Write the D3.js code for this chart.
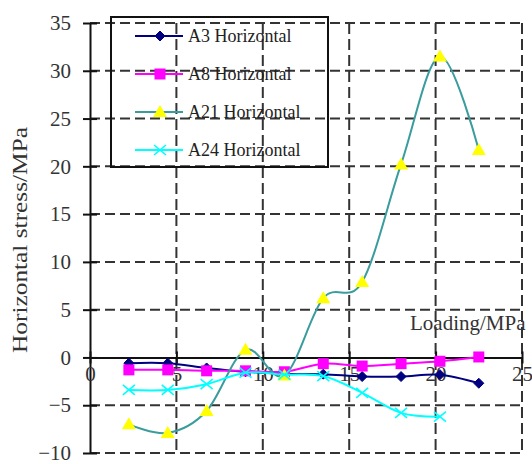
<!DOCTYPE html>
<html>
<head>
<meta charset="utf-8">
<script src="https://cdn.jsdelivr.net/npm/d3@7"></script>
<style>
  html, body { margin: 0; padding: 0; background: #fff; }
  svg { display: block; font-family: "Liberation Serif", "Times New Roman", serif; }
</style>
</head>
<body>
<svg id="chart" width="532" height="464"></svg>
<script>
// Loading steps (MPa) and measured horizontal stress (MPa) at four gauges
const loading = [2.25, 4.5, 6.75, 9, 11.25, 13.5, 15.75, 18, 20.25, 22.5];
const a3  = [-0.6, -0.6, -1.1, -1.5, -1.7, -1.75, -2.0, -2.0, -1.8, -2.7];
const a8  = [-1.3, -1.3, -1.4, -1.4, -1.5, -0.65, -0.9, -0.65, -0.4, 0.05];
const a21 = [-7.0, -7.9, -5.6, 0.8, -1.9, 6.2, 7.9, 20.2, 31.5, 21.7];
const a24 = [-3.4, -3.4, -2.8, -1.6, -1.8, -1.95, -3.7, -5.8, -6.2];
const seriesNames = ["A3 Horizontal", "A8 Horizontal", "A21 Horizontal", "A24 Horizontal"];
const xTicks = [0, 5, 10, 15, 20, 25];
const yTicks = [-10, -5, 0, 5, 10, 15, 20, 25, 30, 35];

const series = [
  { name: seriesNames[0], values: a3,  line: "#000080", fill: "#000080", marker: "diamond" },
  { name: seriesNames[1], values: a8,  line: "#ff00ff", fill: "#ff00ff", marker: "square" },
  { name: seriesNames[2], values: a21, line: "#3a9c9c", fill: "#ffff00", marker: "triangle" },
  { name: seriesNames[3], values: a24, line: "#00ffff", fill: "#00ffff", marker: "cross" }
];

const svg = d3.select("#chart");
const x = d3.scaleLinear().domain([0, 25]).range([90, 522]);
const y = d3.scaleLinear().domain([-10, 35]).range([453, 23]);

const gridColor = "#333";

// dashed grid: horizontal lines (except the zero axis) and vertical lines
svg.append("g").selectAll("line.h")
  .data(yTicks.filter(v => v !== 0))
  .join("line")
  .attr("x1", x(0)).attr("x2", x(25))
  .attr("y1", d => y(d)).attr("y2", d => y(d))
  .attr("stroke", gridColor).attr("stroke-width", 2)
  .attr("stroke-dasharray", "10,5");

svg.append("g").selectAll("line.v")
  .data(xTicks.filter(v => v !== 0))
  .join("line")
  .attr("x1", d => x(d)).attr("x2", d => x(d))
  .attr("y1", y(35)).attr("y2", y(-10))
  .attr("stroke", gridColor).attr("stroke-width", 2)
  .attr("stroke-dasharray", "11,5");

// value axis (left) with crossing ticks
const yAxis = d3.axisLeft(y).tickValues(yTicks).tickSize(0).tickPadding(19);
const gy = svg.append("g").attr("transform", `translate(${x(0)},0)`).call(yAxis);
gy.select(".domain").attr("stroke", "#111").attr("stroke-width", 2);
gy.selectAll(".tick text")
  .attr("font-size", 21).attr("fill", "#333")
  .attr("font-family", "Liberation Serif, serif");
gy.selectAll(".tick").append("line")
  .attr("x1", -7).attr("x2", 7).attr("stroke", "#111").attr("stroke-width", 2);

// category axis crossing at zero
const xAxis = d3.axisBottom(x).tickValues(xTicks).tickSize(0).tickPadding(19);
const gx = svg.append("g").attr("transform", `translate(0,${y(0)})`).call(xAxis);
gx.select(".domain").attr("stroke", "#111").attr("stroke-width", 2);
gx.selectAll(".tick text")
  .attr("font-size", 21).attr("fill", "#333")
  .attr("font-family", "Liberation Serif, serif")
  .attr("dy", "0.2em");
gx.selectAll(".tick").append("line")
  .attr("y1", -6).attr("y2", 6).attr("stroke", "#111").attr("stroke-width", 2);

// axis titles
svg.append("text")
  .attr("x", 410).attr("y", 330)
  .attr("font-size", 21).attr("fill", "#333")
  .text("Loading/MPa");

svg.append("text")
  .attr("transform", `translate(27,240) rotate(-90)`)
  .attr("text-anchor", "middle")
  .attr("font-size", 21).attr("fill", "#333")
  .attr("textLength", 226).attr("lengthAdjust", "spacingAndGlyphs")
  .text("Horizontal stress/MPa");

// marker shapes
function drawMarker(g, type, cx, cy, s) {
  if (type === "diamond") {
    g.append("path").attr("d", `M${cx},${cy - 5}L${cx + 5},${cy}L${cx},${cy + 5}L${cx - 5},${cy}Z`)
      .attr("fill", s.fill).attr("stroke", s.fill);
  } else if (type === "square") {
    g.append("rect").attr("x", cx - 5.5).attr("y", cy - 5.5).attr("width", 11).attr("height", 11)
      .attr("fill", s.fill);
  } else if (type === "triangle") {
    g.append("path").attr("d", `M${cx},${cy - 7}L${cx + 7},${cy + 5}L${cx - 7},${cy + 5}Z`)
      .attr("fill", s.fill);
  } else {
    g.append("path").attr("d", `M${cx - 6},${cy - 5}L${cx + 6},${cy + 5}M${cx - 6},${cy + 5}L${cx + 6},${cy - 5}`)
      .attr("stroke", s.fill).attr("stroke-width", 1.6).attr("fill", "none");
  }
}

// smoothed series lines with markers
const line = d3.line()
  .x((d, i) => x(loading[i]))
  .y(d => y(d))
  .curve(d3.curveCatmullRom.alpha(0));

series.forEach(s => {
  const g = svg.append("g");
  g.append("path")
    .attr("d", line(s.values))
    .attr("fill", "none")
    .attr("stroke", s.line)
    .attr("stroke-width", 2);
  s.values.forEach((v, i) => drawMarker(g, s.marker, x(loading[i]), y(v), s));
});

// legend
const legend = svg.append("g");
legend.append("rect")
  .attr("x", 111).attr("y", 17).attr("width", 217).attr("height", 150)
  .attr("fill", "none").attr("stroke", "#111").attr("stroke-width", 2);
const rowY = [36, 74, 112, 150];
series.forEach((s, i) => {
  const ry = rowY[i];
  legend.append("line")
    .attr("x1", 135).attr("x2", 183).attr("y1", ry).attr("y2", ry)
    .attr("stroke", s.line).attr("stroke-width", 2);
  drawMarker(legend, s.marker, 160, ry, s);
  legend.append("text")
    .attr("x", 188).attr("y", ry).attr("dy", "0.35em")
    .attr("font-size", 18).attr("fill", "#222")
    .text(s.name);
});
</script>
</body>
</html>
